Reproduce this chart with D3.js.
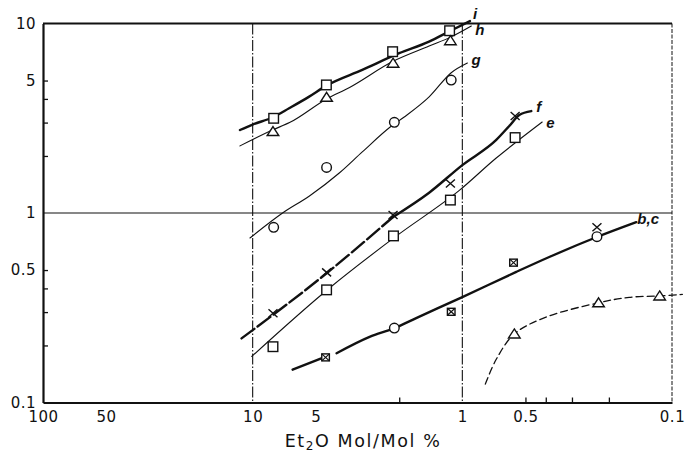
<!DOCTYPE html>
<html>
<head>
<meta charset="utf-8">
<script src="https://cdn.jsdelivr.net/npm/d3@7"></script>
<style>
  body { margin: 0; background: #fff; }
  svg { display: block; }
  .tick text { font-family: "DejaVu Sans", sans-serif; font-size: 15px; fill: #111; letter-spacing: 0.5px; }
  .lab { font-family: "Liberation Sans", Arial, sans-serif; font-size: 15px; font-weight: bold; font-style: italic; fill: #111; }
</style>
</head>
<body>
<svg id="chart" width="685" height="452"></svg>
<script>
// x: Et2O mol/mol %, y: ratio (log-log)
var xLabelVals = [100, 50, 10, 5, 1, 0.5, 0.1];
var xLabelText = ["100", "50", "10", "5", "1", "0.5", "0.1"];
var xMinor = [2, 0.5, 0.4, 0.3, 0.2];
var yLabelVals = [10, 5, 1, 0.5, 0.1];
var yLabelText = ["10", "5", "1", "0.5", "0.1"];
var yMinor = [5, 4, 3, 2, 0.5, 0.4, 0.3, 0.2];
var refX = [10, 1];
var refY = [1];

// curve i (squares)
var iLine = [[11.5, 2.74], [10, 2.93], [8, 3.2], [6.7, 3.57], [5.4, 4.1], [4.45, 4.7], [3.0, 5.69], [2.0, 6.97], [1.45, 8.0], [1.15, 9.1], [0.92, 10.3]];
var iPts = [[7.94, 3.16], [4.45, 4.74], [2.15, 7.1], [1.15, 9.16]];
// curve h (triangles)
var hLine = [[11.5, 2.26], [8, 2.75], [6.67, 3.0], [4.44, 4.0], [3.45, 4.6], [2.15, 6.3], [1.44, 7.6], [1.13, 8.5], [0.906, 9.7]];
var hPts = [[8.0, 2.69], [4.44, 4.08], [2.14, 6.17], [1.14, 8.11]];
// curve g (circles)
var gLine = [[10.3, 0.738], [7.2, 1.0], [5.36, 1.23], [3.85, 1.63], [3.0, 2.1], [2.2, 2.85], [1.9, 3.2], [1.44, 4.1], [1.13, 5.5], [0.946, 6.19]];
var gPts = [[7.94, 0.84], [4.44, 1.74], [2.11, 3.01], [1.13, 5.03]];
// curve f (crosses)
var fLineLow = [[11.3, 0.218], [4.44, 0.481], [2.14, 0.953]];
var fLineHigh = [[2.14, 0.953], [1.44, 1.28], [1.0, 1.79], [0.689, 2.43], [0.597, 2.88], [0.535, 3.29], [0.469, 3.45]];
var fPts = [[8.0, 0.296], [4.44, 0.486], [2.14, 0.976], [1.14, 1.43], [0.56, 3.25]];
// curve e (squares)
var eLine = [[10.1, 0.175], [4.3, 0.402], [2.06, 0.757], [1.03, 1.32], [0.689, 1.95], [0.553, 2.37], [0.416, 3.02]];
var ePts = [[8.0, 0.197], [4.44, 0.393], [2.13, 0.757], [1.14, 1.17], [0.56, 2.5]];
// curves b,c (line broken at the first marker)
var bcLine1 = [[6.45, 0.149], [4.64, 0.172]];
var bcLine2 = [[3.98, 0.182], [2.77, 0.222], [2.11, 0.247], [1.66, 0.279], [1.0, 0.36], [0.553, 0.489], [0.385, 0.586], [0.228, 0.747], [0.148, 0.895]];
var bPts = [[4.49, 0.173], [1.13, 0.301], [0.57, 0.547]];
var cPts = [[2.11, 0.247], [0.228, 0.75]];
var cxPts = [[0.228, 0.841]];
// dashed curve (triangles)
var aLine = [[0.777, 0.125], [0.691, 0.168], [0.565, 0.23], [0.399, 0.282], [0.224, 0.336], [0.16, 0.359], [0.1145, 0.365], [0.0893, 0.372]];
var aPts = [[0.565, 0.23], [0.224, 0.336], [0.1145, 0.365]];

var svg = d3.select("#chart");
var x = d3.scaleLog().domain([100, 0.1]).range([43, 672]);
var y = d3.scaleLog().domain([0.1, 10]).range([402.5, 23.5]);

// reference lines
svg.selectAll(".vref").data(refX).enter().append("line")
    .attr("x1", d => x(d)).attr("x2", d => x(d))
    .attr("y1", y(10)).attr("y2", y(0.1))
    .attr("stroke", "#111").attr("stroke-width", 1.1)
    .attr("stroke-dasharray", "11,2,1.5,2");
svg.selectAll(".href").data(refY).enter().append("line")
    .attr("x1", x(100)).attr("x2", x(0.1))
    .attr("y1", d => y(d)).attr("y2", d => y(d))
    .attr("stroke", "#111").attr("stroke-width", 1.2);

// frame
svg.append("line").attr("x1", x(100)).attr("x2", x(0.1)).attr("y1", y(10)).attr("y2", y(10))
    .attr("stroke", "#111").attr("stroke-width", 2);
svg.append("line").attr("x1", x(0.1)).attr("x2", x(0.1)).attr("y1", y(10)).attr("y2", y(0.1))
    .attr("stroke", "#111").attr("stroke-width", 1).attr("stroke-dasharray", "4,1.5");

// axes
var xAxis = svg.append("g").attr("transform", "translate(0," + y(0.1) + ")")
    .call(d3.axisBottom(x).tickValues(xLabelVals).tickSize(0).tickPadding(9)
        .tickFormat((d, i) => xLabelText[i]));
xAxis.select(".domain").attr("stroke", "#111").attr("stroke-width", 2.2);
svg.append("g").attr("transform", "translate(0," + y(0.1) + ")")
    .call(d3.axisBottom(x).tickValues(xMinor).tickSize(-5).tickFormat(""))
    .call(g => g.select(".domain").remove())
    .selectAll("line").attr("stroke", "#111").attr("stroke-width", 1.3);

var yAxis = svg.append("g").attr("transform", "translate(" + x(100) + ",0)")
    .call(d3.axisLeft(y).tickValues(yLabelVals).tickSize(0).tickPadding(7)
        .tickFormat((d, i) => yLabelText[i]));
yAxis.select(".domain").attr("stroke", "#111").attr("stroke-width", 2.2);
svg.append("g").attr("transform", "translate(" + x(100) + ",0)")
    .call(d3.axisRight(y).tickValues(yMinor).tickSize(5).tickFormat(""))
    .call(g => g.select(".domain").remove())
    .selectAll("line").attr("stroke", "#111").attr("stroke-width", 1.3);

// axis title
var title = svg.append("text").attr("x", 363).attr("y", 447)
    .attr("text-anchor", "middle")
    .style("font-family", "DejaVu Sans, sans-serif").style("font-size", "17.5px")
    .style("letter-spacing", "1.6px").attr("fill", "#111");
title.append("tspan").text("Et");
title.append("tspan").attr("dy", 3).style("font-size", "12px").text("2");
title.append("tspan").attr("dy", -3).text("O Mol/Mol %");

// curves
var line = d3.line().x(d => x(d[0])).y(d => y(d[1])).curve(d3.curveMonotoneX);
var smooth = d3.line().x(d => x(d[0])).y(d => y(d[1])).curve(d3.curveCatmullRom.alpha(0.5));
function drawLine(data, w, dash, gen) {
    svg.append("path").datum(data).attr("d", gen || line)
        .attr("fill", "none").attr("stroke", "#111").attr("stroke-width", w)
        .attr("stroke-linecap", "round").attr("stroke-dasharray", dash || null);
}
drawLine(iLine, 2.4);
drawLine(hLine, 1.1);
drawLine(gLine, 1.1);
drawLine(fLineLow, 2.4, "16,4");
drawLine(fLineHigh, 2.4);
drawLine(eLine, 1.1);
drawLine(bcLine1, 2.4);
drawLine(bcLine2, 2.4);
drawLine(aLine, 1.3, "7,4", smooth);

// markers
function marker(data, shape) {
    var g = svg.append("g").attr("fill", "#fff").attr("stroke", "#111").attr("stroke-width", 1.4);
    data.forEach(function(d) {
        var cx = x(d[0]), cy = y(d[1]);
        if (shape === "square") {
            g.append("rect").attr("x", cx - 4.8).attr("y", cy - 4.8).attr("width", 9.6).attr("height", 9.6);
        } else if (shape === "circle") {
            g.append("circle").attr("cx", cx).attr("cy", cy).attr("r", 4.8);
        } else if (shape === "triangle") {
            g.append("path").attr("d", "M" + cx + "," + (cy - 5) + "L" + (cx + 5.8) + "," + (cy + 4) + "L" + (cx - 5.8) + "," + (cy + 4) + "Z");
        } else if (shape === "cross") {
            g.append("path").attr("fill", "none")
                .attr("d", "M" + (cx - 4.5) + "," + (cy - 4) + "L" + (cx + 4.5) + "," + (cy + 4) + "M" + (cx + 4.5) + "," + (cy - 4) + "L" + (cx - 4.5) + "," + (cy + 4));
        } else if (shape === "xsquare") {
            g.append("rect").attr("x", cx - 3.8).attr("y", cy - 3.5).attr("width", 7.6).attr("height", 7);
            g.append("path").attr("fill", "none").attr("stroke-width", 1.2)
                .attr("d", "M" + (cx - 3.8) + "," + (cy - 3.5) + "L" + (cx + 3.8) + "," + (cy + 3.5) + "M" + (cx + 3.8) + "," + (cy - 3.5) + "L" + (cx - 3.8) + "," + (cy + 3.5));
        }
    });
}
marker(iPts, "square");
marker(hPts, "triangle");
marker(gPts, "circle");
marker(fPts, "cross");
marker(ePts, "square");
marker(bPts, "xsquare");
marker(cPts, "circle");
marker(cxPts, "cross");
marker(aPts, "triangle");

// curve labels at line ends
var labels = [
    {t: "i", d: iLine, dx: 3, dy: -2},
    {t: "h", d: hLine, dx: 4, dy: 9},
    {t: "g", d: gLine, dx: 4, dy: 2},
    {t: "f", d: fLineHigh, dx: 5, dy: 1},
    {t: "e", d: eLine, dx: 4, dy: 6},
    {t: "b,c", d: bcLine2, dx: 1, dy: 2}
];
labels.forEach(function(l) {
    var p = l.d[l.d.length - 1];
    svg.append("text").attr("class", "lab")
        .attr("x", x(p[0]) + l.dx).attr("y", y(p[1]) + l.dy).text(l.t);
});
</script>
</body>
</html>
